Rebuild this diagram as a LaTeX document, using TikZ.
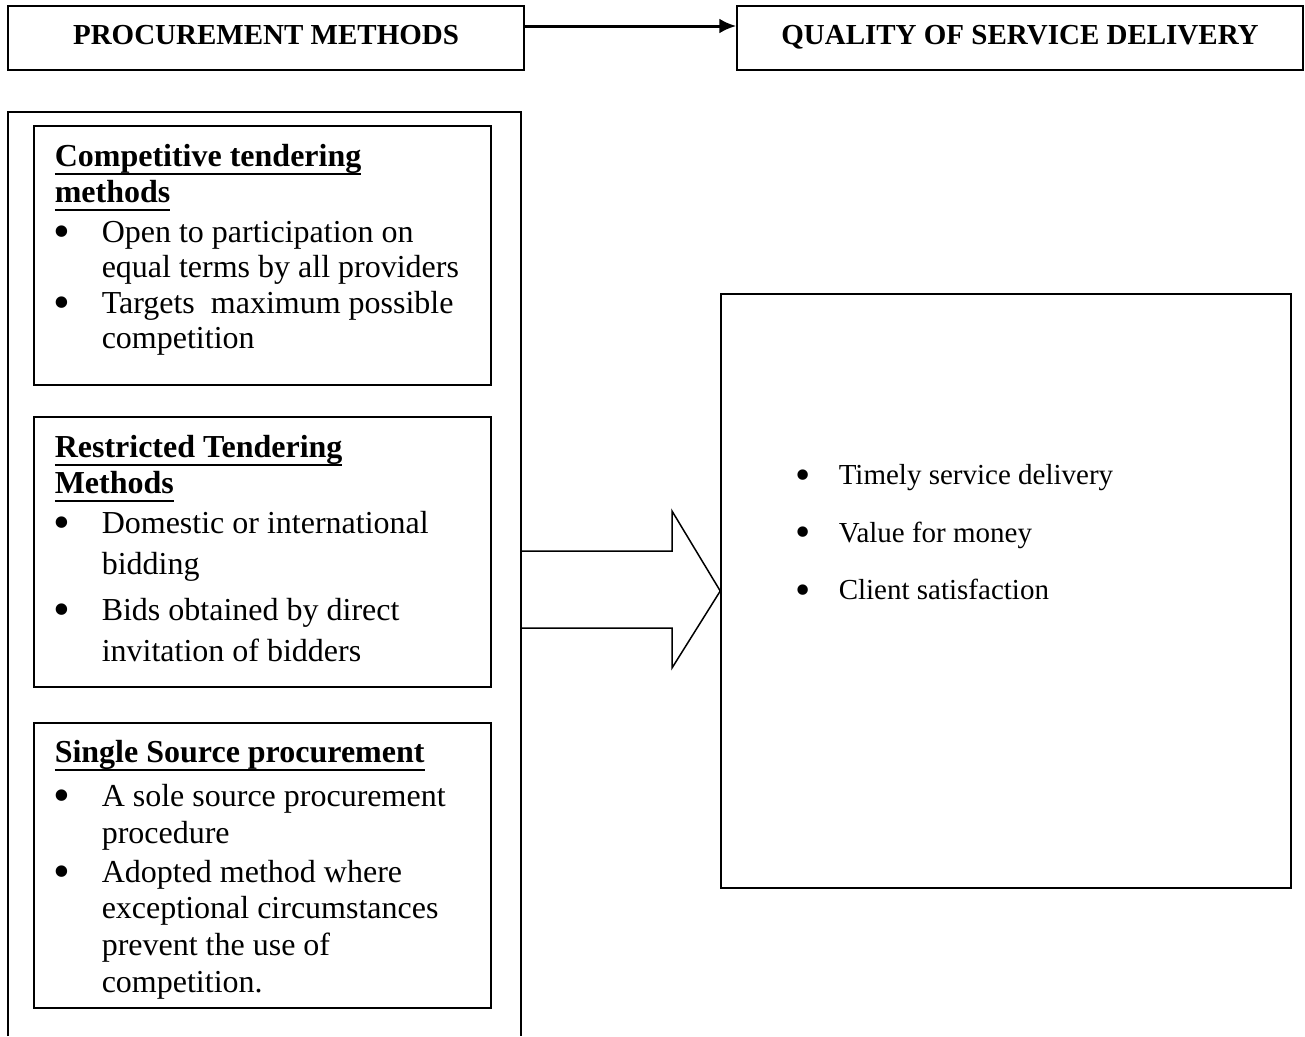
\documentclass[tikz,border=0pt]{standalone}
\usepackage{fontspec}
\usepackage{graphicx}
\setmainfont{Liberation Serif}
\usetikzlibrary{arrows.meta}
\newcommand{\bigdot}{\raisebox{-4.5pt}{\scalebox{1.5}{\textbullet}}}
\newcommand{\bul}[1][47pt]{\makebox[#1][l]{\hspace{-1pt}\bigdot}}
\newcommand{\gap}{\hspace*{47pt}}
\newcommand{\uln}[1]{\setbox0\hbox{#1}\rlap{\rule[-8pt]{\wd0}{2pt}}\box0}
\newcommand{\firstline}[1]{\rule{0pt}{#1}}
\begin{document}
\begin{tikzpicture}[x=1pt, y=-1pt, line width=1.5pt,
  head box/.style={draw, rectangle, minimum height=64pt, inner sep=0pt, font=\fontsize{29}{35}\selectfont\bfseries, text height=19pt, text depth=7pt},
  item box/.style={draw, rectangle, minimum width=457pt, inner sep=0pt},
  item text/.style={anchor=north west, align=left, inner sep=0pt, font=\fontsize{32}{36}\selectfont}]
\useasboundingbox (0,0) rectangle (1305,1036);
% top row
\node[head box, minimum width=516pt] (pm) at (266,38) {PROCUREMENT METHODS};
\node[head box, minimum width=566pt] (qsd) at (1020,38) {QUALITY OF SERVICE DELIVERY};
\coordinate (ya) at (0,26);
\draw[line width=3pt, -{Latex[length=17pt,width=15pt]}] (pm.east |- ya) -- (qsd.west |- ya);
% methods frame (runs off the page)
\draw (8,1036) -- (8,112) -- (521,112) -- (521,1036);
\coordinate (fr) at (521,589);
\node[item box, minimum height=259pt] (ctbox) at (262.5,255.5) {};
\node[item box, minimum height=270pt] (rtbox) at (262.5,552) {};
\node[item box, minimum height=285pt] (ssbox) at (262.5,865.5) {};
% first baselines sit 30pt under the node tops
\node[item text] (cttext) at (54,136) {\firstline{30pt}\uln{\textbf{Competitive tendering}}\\[0pt]
  \uln{\textbf{methods}}\\[4pt]
  \bul Open to participation on\\[-1pt]
  \gap equal terms by all providers\\
  \bul Targets\ \ maximum possible\\[-1pt]
  \gap competition};
\node[item text] (rttext) at (54,427) {\firstline{30pt}\uln{\textbf{Restricted Tendering}}\\
  \uln{\textbf{Methods}}\\[4pt]
  \bul Domestic or international\\[5pt]
  \gap bidding\\[10pt]
  \bul Bids obtained by direct\\[5pt]
  \gap invitation of bidders};
\node[item text] (sstext) at (54,732) {\firstline{30pt}\uln{\textbf{Single Source procurement}}\\[8pt]
  \bul A sole source procurement\\[1pt]
  \gap procedure\\[3pt]
  \bul Adopted method where\\
  \gap exceptional circumstances\\[1pt]
  \gap prevent the use of\\[1pt]
  \gap competition.};
% quality box
\node[draw, rectangle, minimum width=570pt, minimum height=594pt, inner sep=0pt] (qosbox) at (1006,591) {};
\node[anchor=north west, align=left, inner sep=0pt, font=\fontsize{29}{57.5}\selectfont] (qostext) at (796,454)
  {\firstline{30pt}\bul[42pt]Timely service delivery\\
   \bul[42pt]Value for money\\
   \bul[42pt]Client satisfaction};
% block arrow
\draw (fr |- 0,551) -- (672,551) -- (672,511) -- (qosbox.west) -- (672,668) -- (672,628) -- (fr |- 0,628);
\end{tikzpicture}
\end{document}
